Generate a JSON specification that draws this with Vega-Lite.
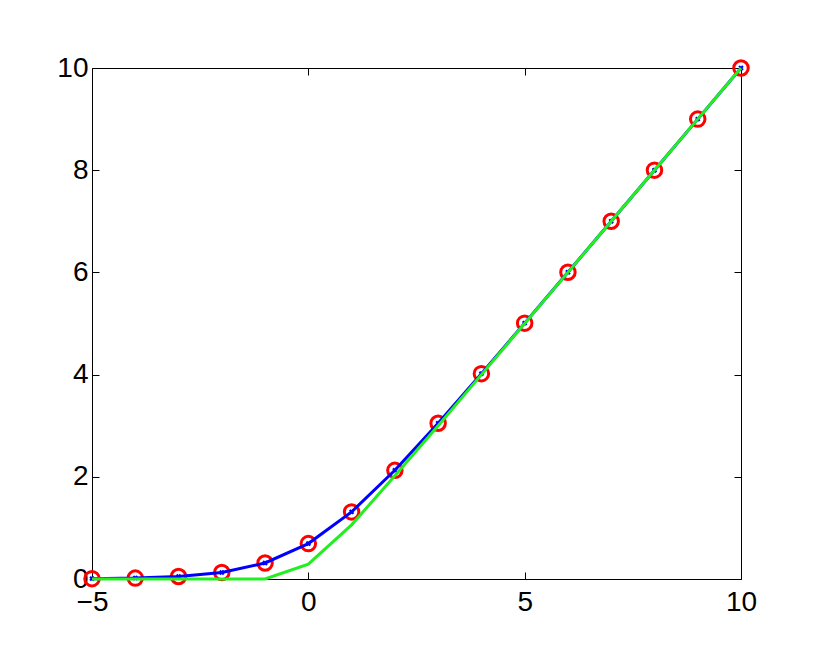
{
  "$schema": "https://vega.github.io/schema/vega-lite/v6.json",
  "width": 649,
  "height": 511,
  "autosize": {"type": "none"},
  "padding": {"left": 92, "top": 68, "right": 75, "bottom": 92},
  "background": "white",
  "config": {
    "view": {"stroke": "black", "strokeWidth": 1},
    "axis": {
      "labelFont": "Liberation Sans",
      "labelFontSize": 28,
      "labelColor": "black",
      "labelFlush": false,
      "labelOverlap": false,
      "domain": false,
      "grid": false,
      "tickColor": "black",
      "tickSize": -7,
      "tickWidth": 1,
      "title": null
    }
  },
  "data": {
    "values": [
      {"x": -5, "softplus": 0.0067, "approx": 0},
      {"x": -4, "softplus": 0.0181, "approx": 0},
      {"x": -3, "softplus": 0.0486, "approx": 0},
      {"x": -2, "softplus": 0.1269, "approx": 0},
      {"x": -1, "softplus": 0.3133, "approx": 0},
      {"x": 0, "softplus": 0.6931, "approx": 0.29},
      {"x": 1, "softplus": 1.3133, "approx": 1.06},
      {"x": 2, "softplus": 2.1269, "approx": 2.02},
      {"x": 3, "softplus": 3.0486, "approx": 3.0},
      {"x": 4, "softplus": 4.0181, "approx": 4.0},
      {"x": 5, "softplus": 5.0067, "approx": 5.0},
      {"x": 6, "softplus": 6.0025, "approx": 6.0},
      {"x": 7, "softplus": 7.0009, "approx": 7.0},
      {"x": 8, "softplus": 8.0003, "approx": 8.0},
      {"x": 9, "softplus": 9.0001, "approx": 9.0},
      {"x": 10, "softplus": 10.0, "approx": 10.0}
    ]
  },
  "resolve": {"axis": {"x": "independent", "y": "independent"}},
  "layer": [
    {
      "mark": {"type": "point", "shape": "circle", "filled": false, "color": "#ff0000", "size": 210, "strokeWidth": 3, "opacity": 1, "clip": false},
      "encoding": {
        "x": {
          "field": "x",
          "type": "quantitative",
          "scale": {"domain": [-5, 10], "nice": false, "zero": false},
          "axis": {"values": [-5, 0, 5, 10], "labelPadding": 16}
        },
        "y": {
          "field": "softplus",
          "type": "quantitative",
          "scale": {"domain": [0, 10], "nice": false},
          "axis": {"values": [0, 2, 4, 6, 8, 10], "labelPadding": 11}
        }
      }
    },
    {
      "mark": {"type": "line", "color": "#0000ff", "strokeWidth": 3},
      "encoding": {
        "x": {
          "field": "x",
          "type": "quantitative",
          "axis": {"orient": "top", "values": [-5, 0, 5, 10], "labels": false}
        },
        "y": {
          "field": "softplus",
          "type": "quantitative",
          "axis": {"orient": "right", "values": [0, 2, 4, 6, 8, 10], "labels": false}
        }
      }
    },
    {
      "mark": {"type": "point", "shape": "cross", "filled": true, "color": "#0000ff", "size": 30, "angle": 45, "opacity": 1},
      "encoding": {
        "x": {"field": "x", "type": "quantitative", "axis": null},
        "y": {"field": "softplus", "type": "quantitative", "axis": null}
      }
    },
    {
      "mark": {"type": "line", "color": "#22ee22", "strokeWidth": 3},
      "encoding": {
        "x": {"field": "x", "type": "quantitative", "axis": null},
        "y": {"field": "approx", "type": "quantitative", "axis": null}
      }
    }
  ]
}
